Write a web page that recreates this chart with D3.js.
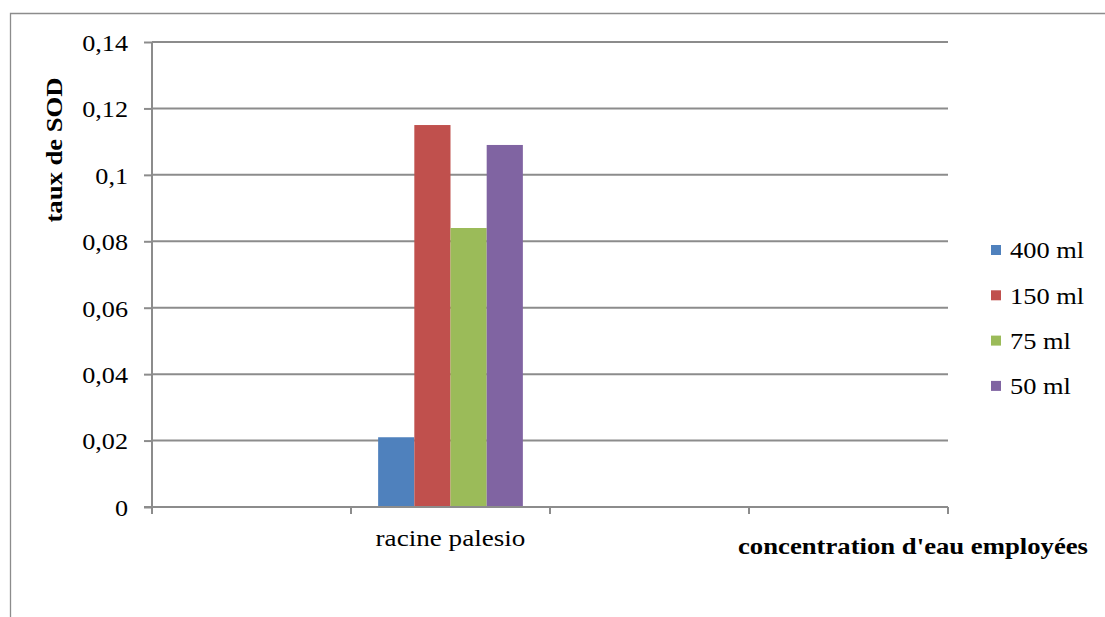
<!DOCTYPE html>
<html><head><meta charset="utf-8">
<script src="https://cdn.jsdelivr.net/npm/d3@7"></script>
<style>body{margin:0;background:#fff}svg{display:block}</style>
</head><body>
<svg id="c" width="1105" height="617"></svg>
<script>
const categories = ["cat0", "racine palesio", "cat2", "cat3"];
const categoryLabels = ["", "racine palesio", "", ""];
const seriesNames = ["400 ml", "150 ml", "75 ml", "50 ml"];
const seriesColors = ["#4f81bd", "#c0504d", "#9bbb59", "#8064a2"];
const v400 = [null, 0.021, null, null];
const v150 = [null, 0.115, null, null];
const v75 = [null, 0.084, null, null];
const v50 = [null, 0.109, null, null];
const yTicks = [0, 0.02, 0.04, 0.06, 0.08, 0.1, 0.12, 0.14];
const yTickLabels = ["0", "0,02", "0,04", "0,06", "0,08", "0,1", "0,12", "0,14"];
const seriesValues = [v400, v150, v75, v50];

const FONT = "'Liberation Serif', 'Times New Roman', Tinos, serif";
const svg = d3.select("#c");
const L = 152, R = 948, T = 42, B = 507;
const gridColor = "#8c8c8c";

function sty(sel, size, bold) {
  sel.style("font-family", FONT).style("font-size", size + "px").style("font-weight", bold ? "bold" : "normal").style("fill", "#000");
}
function stretch(sel, k) {
  sel.each(function () {
    const w = this.getComputedTextLength();
    if (w > 0) d3.select(this).attr("textLength", w * k).attr("lengthAdjust", "spacingAndGlyphs");
  });
}

// outer frame
svg.append("path").attr("d", "M10.5,617 V13.5 H1105").attr("fill", "none").attr("stroke", "#8c8c8c").attr("stroke-width", 1.3);

const x = d3.scaleBand().domain(categories).range([L, R]);
const y = d3.scaleLinear().domain([0, 0.14]).range([B, T]);

// gridlines
svg.append("g").selectAll("line").data(yTicks.filter(d => d > 0)).join("line")
  .attr("x1", L).attr("x2", R).attr("y1", d => y(d)).attr("y2", d => y(d))
  .attr("stroke", gridColor).attr("stroke-width", 2);

// bars (Excel-like clustered bars, gap width 150%)
const barW = x.bandwidth() / 5.5;
const gapOff = barW * 0.75;
seriesValues.forEach((vals, si) => {
  svg.append("g").selectAll("rect").data(categories.map((c, i) => ({c, v: vals[i]})).filter(d => d.v != null)).join("rect")
    .attr("x", d => x(d.c) + gapOff + si * barW)
    .attr("width", barW)
    .attr("y", d => y(d.v))
    .attr("height", d => y(0) - y(d.v))
    .attr("fill", seriesColors[si]);
});

// y axis
const ya = d3.axisLeft(y).tickValues(yTicks).tickFormat((d, i) => yTickLabels[i]).tickSize(8).tickPadding(16);
const yg = svg.append("g").attr("transform", `translate(${L},0)`).call(ya);
yg.attr("font-family", null).attr("font-size", null);
yg.select(".domain").attr("stroke", gridColor).attr("stroke-width", 2).attr("d", `M0,${T}V${B+6}`);
yg.selectAll(".tick line").attr("stroke", gridColor).attr("stroke-width", 2);
yg.selectAll(".tick text").call(sty, 24, false).attr("dy", "0.35em").call(stretch, 1.09);

// x axis
const xa = d3.axisBottom(x).tickFormat((d, i) => categoryLabels[i]).tickSize(0).tickPadding(22);
const xg = svg.append("g").attr("transform", `translate(0,${B})`).call(xa);
xg.attr("font-family", null).attr("font-size", null);
xg.select(".domain").attr("stroke", gridColor).attr("stroke-width", 2).attr("d", `M${L-8},0H${R}`);
xg.selectAll(".tick text").call(sty, 24, false).call(stretch, 1.13);
const bounds = categories.map(c => x(c)).concat([R]);
xg.append("g").selectAll("line").data(bounds).join("line")
  .attr("x1", d => d).attr("x2", d => d).attr("y1", 0).attr("y2", 7)
  .attr("stroke", gridColor).attr("stroke-width", 2);

// axis titles
svg.append("text").attr("transform", "translate(62,150) rotate(-90)").attr("text-anchor", "middle")
  .call(sty, 23, true).text("taux de SOD")
  .attr("textLength", 145).attr("lengthAdjust", "spacingAndGlyphs");
svg.append("text").attr("x", 913).attr("y", 554).attr("text-anchor", "middle")
  .call(sty, 23, true).text("concentration d'eau employées")
  .attr("textLength", 350).attr("lengthAdjust", "spacingAndGlyphs");

// legend
const lg = svg.append("g");
seriesNames.forEach((n, i) => {
  const cy = 250 + i * 45.3;
  lg.append("rect").attr("x", 991).attr("y", cy - 5).attr("width", 10).attr("height", 10).attr("fill", seriesColors[i]);
  lg.append("text").attr("x", 1010).attr("y", cy).attr("dy", "0.35em").call(sty, 24, false).text(n).call(stretch, 1.1);
});
</script>
</body></html>
